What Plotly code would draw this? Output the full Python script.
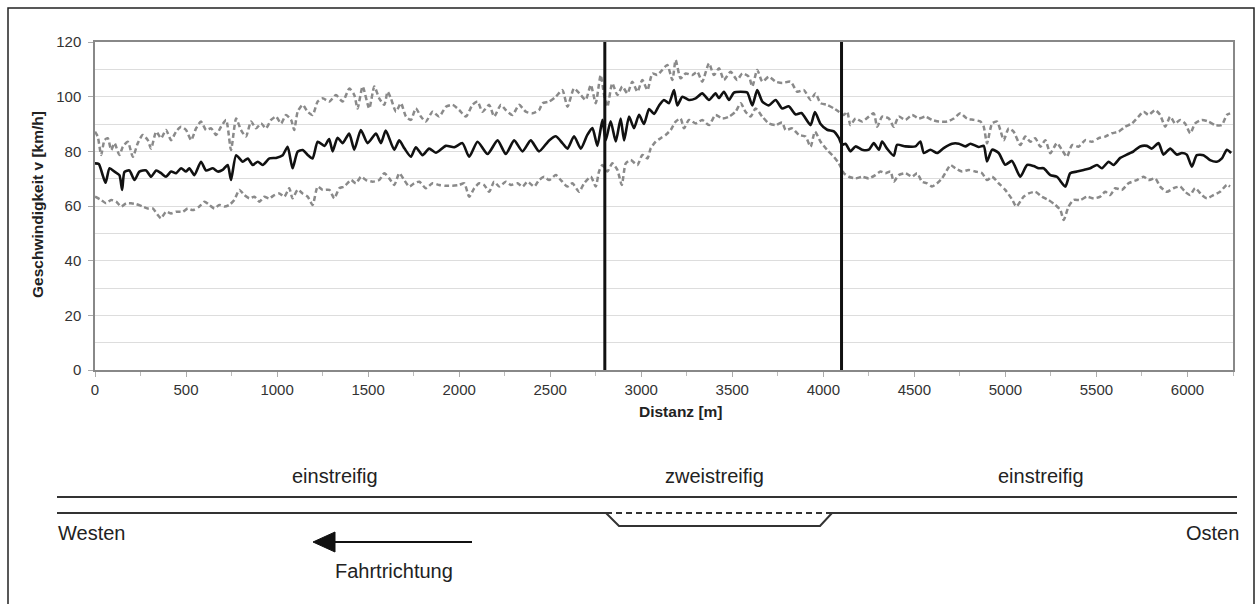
import plotly.graph_objects as go

# ---------------- data ----------------
mean_dist = [0, 21, 39, 58, 80, 107, 134, 149, 162, 189, 217, 244, 281, 308, 336, 363, 390, 418, 445, 473,
             500, 518, 546, 582, 610, 647, 674, 701, 729, 747, 775, 811, 839, 866, 894, 921, 958, 994, 1031, 1058,
             1085, 1113, 1140, 1168, 1195, 1223, 1260, 1286, 1305, 1332, 1360, 1396, 1424, 1460, 1497, 1543, 1570, 1597, 1643, 1671,
             1700, 1735, 1762, 1799, 1835, 1872, 1927, 1973, 2018, 2055, 2101, 2156, 2211, 2256, 2302, 2348, 2393, 2439, 2494, 2531,
             2567, 2595, 2631, 2668, 2704, 2732, 2759, 2787, 2805, 2832, 2860, 2887, 2906, 2933, 2960, 2988, 3015, 3043, 3070, 3098,
             3125, 3152, 3180, 3198, 3226, 3262, 3299, 3335, 3372, 3408, 3427, 3454, 3482, 3509, 3546, 3582, 3610, 3637, 3665, 3701,
             3738, 3774, 3810, 3848, 3880, 3930, 3954, 3985, 4021, 4058, 4085, 4103, 4122, 4149, 4177, 4213, 4250, 4277, 4305, 4323,
             4350, 4387, 4405, 4451, 4506, 4533, 4552, 4588, 4625, 4661, 4707, 4744, 4780, 4808, 4853, 4881, 4899, 4927, 4963, 4999,
             5036, 5082, 5119, 5155, 5183, 5210, 5247, 5283, 5329, 5356, 5393, 5430, 5466, 5503, 5530, 5567, 5594, 5631, 5667, 5704,
             5740, 5777, 5804, 5841, 5868, 5905, 5942, 5969, 5996, 6024, 6051, 6088, 6124, 6161, 6189, 6216, 6240]
mean_speed = [75.6, 75.4, 72.0, 68.5, 73.8, 72.6, 71.3, 65.9, 72.5, 73.0, 69.5, 72.6, 73.0, 70.7, 73.0, 72.0, 70.7, 72.6, 72.0, 73.8,
              72.6, 73.8, 71.3, 76.2, 73.0, 73.8, 72.6, 73.2, 75.0, 69.5, 78.6, 76.2, 77.4, 75.0, 76.2, 75.0, 77.4, 77.6, 78.6, 81.7,
              73.8, 79.9, 80.5, 78.7, 77.4, 83.5, 82.0, 84.5, 80.0, 85.0, 83.0, 86.5, 80.6, 87.8, 83.0, 86.5, 83.0, 87.6, 80.6, 84.0,
              81.0, 78.0, 81.5, 78.6, 81.0, 79.5, 82.0, 81.5, 83.0, 78.0, 83.5, 79.0, 84.0, 79.0, 84.0, 80.0, 84.0, 80.0, 84.0, 85.5,
              83.0, 81.0, 85.5, 81.0, 86.0, 88.5, 82.0, 91.5, 84.0, 91.0, 83.6, 92.0, 84.0, 92.7, 88.5, 93.4, 90.0, 95.5, 93.7, 96.8,
              98.8, 97.6, 102.4, 96.8, 100.0, 98.8, 99.4, 101.2, 98.8, 101.2, 99.5, 101.8, 98.8, 101.5, 101.8, 101.5, 96.8, 102.4, 98.2, 96.8,
              98.8, 95.7, 96.5, 93.5, 94.0, 89.6, 94.4, 90.0, 87.9, 87.3, 84.9, 82.4, 82.8, 80.0, 81.8, 80.6, 80.6, 83.0, 80.6, 83.6,
              81.0, 78.4, 82.4, 81.8, 81.8, 83.6, 79.4, 80.6, 79.4, 81.2, 82.8, 82.8, 81.8, 82.8, 81.6, 82.0, 76.3, 80.6, 79.4, 75.1,
              76.5, 70.7, 75.0, 74.6, 73.8, 73.8, 71.3, 70.7, 67.1, 72.0, 72.6, 73.2, 73.8, 75.0, 73.8, 76.2, 75.0, 77.6, 78.8, 80.0,
              81.8, 82.0, 81.0, 83.0, 78.8, 81.0, 78.8, 79.4, 78.8, 74.4, 78.6, 78.6, 76.8, 76.2, 77.4, 80.6, 79.4]

upper_dist = [0, 15, 34, 52, 70, 89, 107, 134, 153, 180, 208, 235, 262, 290, 308, 336, 363, 390, 418, 445,
              473, 500, 528, 555, 582, 610, 638, 665, 692, 720, 747, 775, 802, 829, 857, 884, 912, 939, 967, 994,
              1022, 1049, 1077, 1094, 1113, 1140, 1168, 1195, 1223, 1250, 1287, 1323, 1360, 1397, 1424, 1442, 1470, 1506, 1534, 1561,
              1589, 1607, 1625, 1653, 1680, 1708, 1735, 1762, 1790, 1817, 1854, 1890, 1927, 1964, 2000, 2037, 2073, 2101, 2128, 2165,
              2192, 2229, 2256, 2293, 2329, 2366, 2403, 2439, 2458, 2494, 2531, 2567, 2595, 2631, 2668, 2695, 2723, 2750, 2777, 2796,
              2814, 2841, 2869, 2896, 2924, 2951, 2979, 3006, 3034, 3061, 3088, 3116, 3143, 3171, 3189, 3216, 3244, 3280, 3308, 3335,
              3372, 3399, 3427, 3454, 3491, 3527, 3555, 3591, 3610, 3637, 3665, 3701, 3738, 3774, 3820, 3857, 3893, 3930, 3957, 3985,
              4021, 4058, 4085, 4113, 4131, 4149, 4177, 4213, 4250, 4277, 4296, 4323, 4360, 4387, 4414, 4451, 4488, 4524, 4561, 4597,
              4634, 4680, 4716, 4753, 4789, 4826, 4863, 4881, 4899, 4927, 4954, 4972, 4991, 5018, 5045, 5082, 5109, 5137, 5164, 5192,
              5219, 5247, 5283, 5311, 5338, 5366, 5402, 5439, 5475, 5512, 5548, 5585, 5622, 5658, 5695, 5731, 5759, 5786, 5823, 5850,
              5878, 5905, 5932, 5960, 5987, 6015, 6042, 6079, 6115, 6152, 6188, 6216, 6234]
upper_speed = [87.2, 85.4, 78.7, 84.1, 84.8, 80.5, 83.0, 78.7, 81.7, 83.5, 78.0, 83.0, 86.0, 84.1, 81.0, 87.2, 84.8, 87.8, 84.1, 87.2,
               89.0, 87.8, 84.1, 88.4, 90.9, 87.8, 88.4, 86.0, 89.0, 91.5, 80.5, 92.0, 87.8, 85.4, 90.9, 88.4, 90.2, 88.4, 91.5, 92.7,
               90.2, 93.3, 91.5, 87.8, 94.5, 97.0, 94.5, 93.3, 98.2, 99.4, 98.2, 100.6, 98.2, 103.0, 100.6, 95.7, 103.7, 95.7, 103.7, 99.4,
               97.0, 101.8, 99.4, 94.5, 97.6, 92.7, 91.5, 95.7, 92.7, 90.9, 94.5, 92.7, 96.3, 97.0, 95.1, 92.7, 97.0, 98.2, 94.5, 97.0,
               92.7, 97.0, 95.1, 93.3, 97.0, 94.5, 93.9, 95.1, 97.6, 98.2, 100.0, 102.4, 96.3, 103.0, 100.6, 98.8, 104.3, 97.6, 107.9, 100.6,
               96.3, 104.9, 100.6, 103.7, 101.2, 105.5, 101.8, 106.1, 102.4, 108.5, 107.9, 109.8, 111.6, 106.1, 113.4, 106.7, 108.5, 107.9, 109.1, 105.5,
               112.2, 107.9, 110.4, 106.1, 109.1, 106.1, 108.5, 107.3, 103.7, 109.8, 105.5, 107.3, 105.5, 105.0, 105.5, 101.8, 102.4, 98.8, 101.2, 97.6,
               97.0, 95.7, 94.5, 93.3, 94.5, 89.6, 92.0, 90.9, 92.7, 93.9, 89.0, 92.7, 92.0, 89.0, 92.7, 91.5, 93.3, 92.0, 92.7, 91.5,
               90.9, 90.9, 92.0, 93.9, 92.0, 91.5, 90.9, 89.0, 82.9, 90.2, 90.9, 87.8, 84.1, 88.4, 87.2, 82.3, 85.4, 83.5, 84.8, 81.7,
               84.1, 79.3, 83.0, 80.5, 78.0, 82.3, 81.7, 84.1, 83.5, 84.8, 85.4, 86.6, 87.2, 89.0, 90.2, 92.7, 94.5, 93.3, 95.1, 93.3,
               89.0, 92.7, 90.2, 91.5, 90.2, 86.6, 90.2, 91.5, 90.9, 89.6, 89.6, 93.3, 93.9]

lower_dist = [0, 34, 61, 89, 116, 144, 171, 198, 226, 262, 290, 317, 345, 363, 390, 418, 445, 482, 509, 537,
              573, 601, 628, 656, 683, 711, 738, 765, 793, 820, 848, 875, 903, 930, 957, 985, 1012, 1040, 1067, 1085,
              1113, 1140, 1168, 1195, 1223, 1250, 1287, 1314, 1342, 1369, 1406, 1433, 1461, 1488, 1525, 1561, 1589, 1616, 1644, 1671,
              1698, 1726, 1753, 1781, 1817, 1854, 1890, 1927, 1964, 2000, 2028, 2055, 2083, 2110, 2137, 2165, 2192, 2220, 2256, 2284,
              2320, 2348, 2375, 2412, 2439, 2467, 2494, 2531, 2558, 2595, 2622, 2659, 2686, 2723, 2750, 2768, 2787, 2814, 2841, 2869,
              2893, 2915, 2942, 2979, 3006, 3034, 3052, 3079, 3107, 3134, 3162, 3189, 3216, 3235, 3262, 3299, 3335, 3372, 3408, 3445,
              3482, 3518, 3546, 3573, 3601, 3628, 3665, 3701, 3738, 3774, 3793, 3829, 3866, 3902, 3930, 3954, 3985, 4021, 4058, 4085,
              4113, 4140, 4177, 4213, 4250, 4286, 4314, 4341, 4369, 4387, 4414, 4451, 4488, 4515, 4542, 4570, 4597, 4625, 4652, 4680,
              4698, 4725, 4762, 4798, 4835, 4872, 4899, 4927, 4963, 4999, 5036, 5060, 5100, 5128, 5164, 5201, 5237, 5274, 5302, 5320,
              5347, 5375, 5411, 5448, 5484, 5521, 5548, 5576, 5603, 5640, 5676, 5722, 5759, 5786, 5823, 5850, 5887, 5923, 5960, 5987,
              6015, 6042, 6079, 6106, 6143, 6179, 6216, 6234]
lower_speed = [63.4, 62.2, 61.0, 62.2, 61.6, 59.8, 61.0, 61.0, 60.7, 59.8, 59.1, 59.1, 56.7, 55.5, 57.9, 57.3, 57.9, 57.9, 59.1, 58.5,
               59.8, 61.6, 60.4, 59.1, 60.4, 59.8, 60.4, 62.2, 65.9, 64.0, 62.8, 63.4, 61.6, 63.4, 62.8, 64.0, 64.6, 63.4, 66.5, 62.8,
               65.9, 64.6, 63.4, 60.4, 67.1, 65.9, 65.9, 62.8, 66.5, 67.1, 69.5, 68.3, 70.7, 69.5, 68.9, 69.5, 72.0, 70.1, 67.7, 72.0,
               69.5, 67.1, 68.3, 68.9, 66.5, 68.3, 67.7, 67.4, 67.4, 67.7, 68.3, 63.4, 66.5, 68.3, 67.7, 65.2, 68.9, 67.1, 68.9, 67.7,
               68.3, 67.1, 68.9, 67.1, 69.5, 70.7, 69.5, 71.3, 69.5, 67.1, 68.3, 65.2, 68.3, 70.7, 67.1, 72.6, 75.0, 72.6, 75.6, 73.2,
               67.7, 75.6, 76.8, 75.0, 78.7, 77.4, 81.1, 83.5, 84.8, 86.0, 87.8, 90.9, 92.0, 88.4, 91.5, 90.2, 91.5, 89.6, 93.3, 92.0,
               92.7, 94.5, 97.6, 94.5, 92.7, 95.7, 92.7, 90.2, 89.6, 90.5, 87.8, 88.4, 86.0, 85.4, 81.7, 87.2, 83.5, 80.5, 78.0, 75.6,
               72.0, 70.7, 70.1, 70.7, 70.1, 71.3, 72.6, 72.0, 72.6, 68.9, 71.3, 72.0, 70.7, 72.0, 68.9, 68.3, 67.1, 68.3, 70.1, 73.2,
               75.0, 73.8, 72.6, 73.2, 72.6, 72.0, 69.5, 70.7, 68.3, 65.9, 62.5, 59.8, 63.4, 64.6, 65.2, 63.4, 62.2, 60.4, 58.5, 54.9,
               59.8, 62.2, 62.2, 63.4, 62.8, 63.4, 65.2, 64.0, 66.5, 65.9, 68.3, 69.5, 70.7, 69.5, 70.1, 67.1, 65.2, 66.5, 67.1, 65.2,
               64.0, 66.5, 64.0, 62.8, 64.0, 65.2, 67.7, 67.1]

section_bounds = [2800, 4100]
x_ticks = [0, 500, 1000, 1500, 2000, 2500, 3000, 3500, 4000, 4500, 5000, 5500, 6000]
y_ticks = [0, 20, 40, 60, 80, 100, 120]
section_labels = ["einstreifig", "zweistreifig", "einstreifig"]

# ---------------- layout geometry ----------------
W, H = 1255, 604
L, R, T, B = 95, 1233, 42, 370


def px(xp):
    return (xp - L) / (R - L)


def py(yp):
    return (B - yp) / (B - T)


FONT = "Liberation Sans, Arial, sans-serif"
TXT = "#222222"

fig = go.Figure()
fig.add_trace(go.Scatter(x=upper_dist, y=upper_speed, mode="lines",
                         line=dict(color="#8a8a8a", width=2.5, dash="5px,3px", shape="spline", smoothing=0.6),
                         showlegend=False, hoverinfo="skip"))
fig.add_trace(go.Scatter(x=lower_dist, y=lower_speed, mode="lines",
                         line=dict(color="#8a8a8a", width=2.5, dash="5px,3px", shape="spline", smoothing=0.6),
                         showlegend=False, hoverinfo="skip"))
fig.add_trace(go.Scatter(x=mean_dist, y=mean_speed, mode="lines",
                         line=dict(color="#111111", width=2.6, shape="spline", smoothing=0.6),
                         showlegend=False, hoverinfo="skip"))

shapes = []
for xb in section_bounds:
    shapes.append(dict(type="line", xref="x", yref="y", x0=xb, x1=xb, y0=0, y1=120,
                       line=dict(color="#111111", width=3)))

# outer frame
shapes.append(dict(type="rect", xref="paper", yref="paper", x0=px(8), x1=px(1254), y0=py(8), y1=py(612),
                   line=dict(color="#222222", width=1.5), fillcolor="rgba(0,0,0,0)", layer="below"))
# road diagram
road = dict(color="#333333", width=2)
shapes.append(dict(type="line", xref="paper", yref="paper", x0=px(57), x1=px(1237), y0=py(497), y1=py(497), line=road))
path = "M {},{} L {},{} L {},{} L {},{} L {},{} L {},{}".format(
    px(57), py(513), px(606), py(513), px(619), py(526), px(820), py(526), px(832), py(513), px(1237), py(513))
shapes.append(dict(type="path", xref="paper", yref="paper", path=path, line=road))
shapes.append(dict(type="line", xref="paper", yref="paper", x0=px(606), x1=px(832), y0=py(513), y1=py(513),
                   line=dict(color="#333333", width=2, dash="6px,4px")))
# direction arrow
shapes.append(dict(type="line", xref="paper", yref="paper", x0=px(330), x1=px(472), y0=py(542), y1=py(542),
                   line=dict(color="#111111", width=2)))
tri = "M {},{} L {},{} L {},{} Z".format(px(313), py(542), px(335), py(532), px(335), py(552))
shapes.append(dict(type="path", xref="paper", yref="paper", path=tri, fillcolor="#111111",
                   line=dict(color="#111111", width=1)))

annotations = []


def txt(text, xp, yp, size=20, xanchor="center", bold=False, angle=0):
    annotations.append(dict(text=("<b>%s</b>" % text) if bold else text, xref="paper", yref="paper",
                            x=px(xp), y=py(yp), xanchor=xanchor, yanchor="middle", showarrow=False,
                            textangle=angle, font=dict(family=FONT, size=size, color=TXT)))


txt(section_labels[0], 335, 476)
txt(section_labels[1], 714, 476)
txt(section_labels[2], 1041, 476)
txt("Westen", 56, 533, xanchor="left")
txt("Osten", 1241, 533, xanchor="right")
txt("Fahrtrichtung", 394, 571)
txt("Geschwindigkeit v [km/h]", 37, 205, size=15.5, bold=True, angle=-90)
txt("Distanz [m]", 681, 411, size=15.5, bold=True)

fig.update_layout(
    width=W, height=H,
    margin=dict(l=L, r=W - R, t=T, b=H - B, pad=0),
    paper_bgcolor="white", plot_bgcolor="white",
    shapes=shapes, annotations=annotations,
    font=dict(family=FONT, size=15, color="#333333"),
)
fig.update_xaxes(range=[0, 6250], tickvals=x_ticks, showgrid=False, zeroline=False,
                 showline=True, linecolor="#888888", linewidth=1.5, mirror=True,
                 ticks="outside", ticklen=5, tickcolor="#aaaaaa",
                 minor=dict(dtick=250, ticks="outside", ticklen=4, tickcolor="#bbbbbb"),
                 tickfont=dict(family=FONT, size=15, color="#333333"))
fig.update_yaxes(range=[0, 120], tickvals=y_ticks, showgrid=True, gridcolor="#dddddd", gridwidth=1,
                 zeroline=False, showline=True, linecolor="#888888", linewidth=1.5, mirror=True,
                 ticks="outside", ticklen=5, tickcolor="#aaaaaa", ticklabelstandoff=4,
                 minor=dict(dtick=10, showgrid=True, gridcolor="#dddddd", gridwidth=1),
                 tickfont=dict(family=FONT, size=15, color="#333333"))

fig.write_html("out.html")
